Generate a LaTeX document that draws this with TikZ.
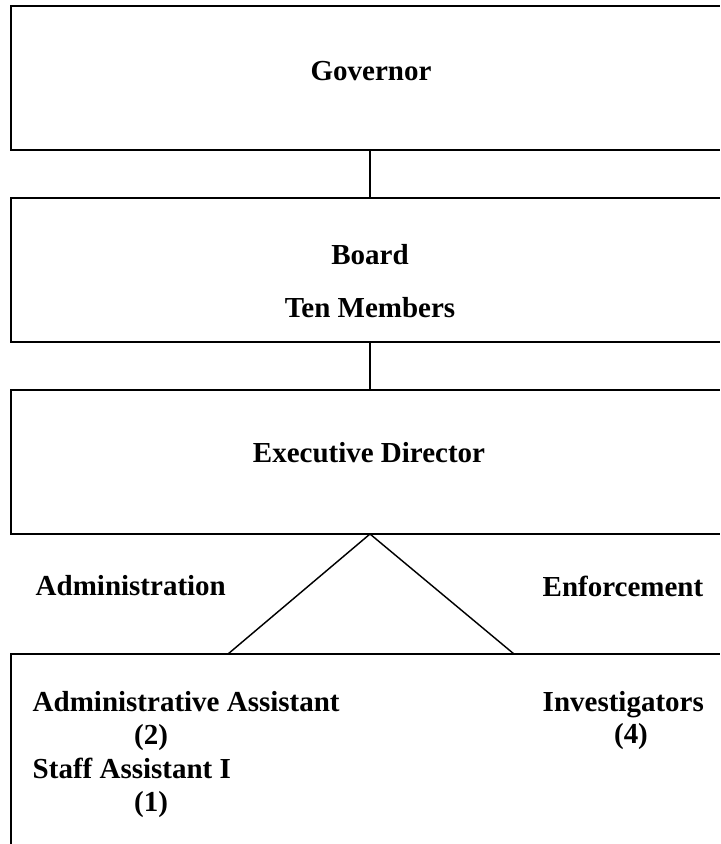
\documentclass[tikz,border=0pt]{standalone}
\usepackage{fontspec}
\setmainfont{Liberation Serif}
\usetikzlibrary{calc}

\def\pxu{0.4138pt}

\tikzset{
    orgbox/.style={rectangle, draw=black, line width=0.6pt, inner sep=0pt, outer sep=0pt,
        minimum width=718*\pxu},
    label/.style={font=\fontsize{12pt}{14pt}\selectfont\bfseries, inner sep=0pt}
}

\begin{document}
\begin{tikzpicture}[x=\pxu, y=-\pxu, line width=0.6pt]

        \useasboundingbox (0,0) rectangle (720,844);
        \clip (0,0) rectangle (720,844);

        %% Boxes
        \node (governor) [orgbox, minimum height=144*\pxu] at (370,78) {};
        \node (board) [orgbox, minimum height=144*\pxu] at (370,270) {};
        \node (exec) [orgbox, minimum height=144*\pxu] at (370,462) {};
        \node (staff) [orgbox, minimum height=246*\pxu] at (370,777) {};

        %% Box texts
        \node (govtext) [label, anchor=base] at (371,80) {Governor};
        \node (boardtext) [label, anchor=base] at (370,264) {Board};
        \node (membertext) [label, anchor=base] at (370,317) {Ten Members};
        \node (exectext) [label, anchor=base] at (369,462) {Executive Director};

        %% Divisions
        \node (admin) [label, anchor=base west] at (35,595) {Administration};
        \node (enforce) [label, anchor=base west] at (542,596) {Enforcement};

        %% Staff
        \node (adminasst) [label, anchor=base west] at (32,711) {Administrative Assistant};
        \node (adminnum) [label, anchor=base] at (151,744) {(2)};
        \node (staffasst) [label, anchor=base west] at (32,778) {Staff Assistant I};
        \node (staffnum) [label, anchor=base] at (151,811) {(1)};
        \node (invest) [label, anchor=base west] at (542,711) {Investigators};
        \node (investnum) [label, anchor=base] at (631,743) {(4)};

        %% Lines
        \draw (governor) -- (board);
        \draw (board) -- (exec);
        \coordinate (adminfoot) at (228,654);
        \coordinate (enforcefoot) at (514,654);
        \draw (adminfoot) -- (exec.south) -- (enforcefoot);

\end{tikzpicture}
\end{document}
